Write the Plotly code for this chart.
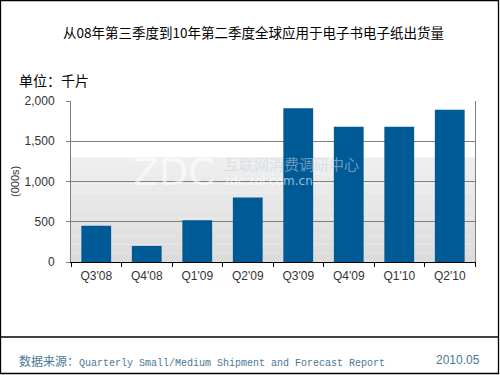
import plotly.graph_objects as go

categories = ["Q3'08", "Q4'08", "Q1'09", "Q2'09", "Q3'09", "Q4'09", "Q1'10", "Q2'10"]
shipments = [450, 200, 520, 800, 1910, 1680, 1680, 1890]
y_ticks = [0, 500, 1000, 1500, 2000]
y_tick_labels = ["0", "500", "1,000", "1,500", "2,000"]

W, H = 500, 375
L, R, T, B = 71, 25, 101, 113
PW, PH = W - L - R, H - T - B

def px(x):
    return (x - L) / PW

def py(y):
    return 1 - (y - T) / PH

fig = go.Figure()
fig.add_trace(go.Bar(x=categories, y=shipments, marker_color="#005a96",
                     marker_line_width=0, hoverinfo="x+y"))

shapes = []
# gradient band behind bars (lower part of plot)
band_top = 1300
n = 12
for i in range(n):
    y0 = band_top * i / n
    y1 = band_top * (i + 1) / n
    c = int(220 + (240 - 220) * (i + 0.5) / n)
    shapes.append(dict(type="rect", xref="paper", yref="y", x0=0, x1=1, y0=y0, y1=y1,
                       fillcolor=f"rgb({c},{c},{c})", line_width=0, layer="below"))
# outer border
shapes.append(dict(type="rect", xref="paper", yref="paper", x0=px(0.5), x1=px(498.5),
                   y0=py(0.5), y1=py(373.5), line=dict(color="#000000", width=1.3)))
# footer separator
shapes.append(dict(type="line", xref="paper", yref="paper", x0=px(1), x1=px(498),
                   y0=py(337), y1=py(337), line=dict(color="#000000", width=1.3)))
fig.update_layout(shapes=shapes)

font_cjk = "Noto Sans CJK SC, Noto Sans, sans-serif"
ann = []
ann.append(dict(text="从08年第三季度到10年第二季度全球应用于电子书电子纸出货量", x=px(253), y=py(32),
                xref="paper", yref="paper", showarrow=False, xanchor="center", yanchor="middle",
                font=dict(family=font_cjk, size=13.5, color="#000000")))
ann.append(dict(text="单位：千片", x=px(17), y=py(80), xref="paper", yref="paper", showarrow=False,
                xanchor="left", yanchor="middle", font=dict(family=font_cjk, size=14, color="#000000")))
ann.append(dict(text="(000s)", x=px(15), y=py(181), xref="paper", yref="paper", showarrow=False,
                textangle=-90, xanchor="center", yanchor="middle",
                font=dict(family="Liberation Sans, Arial, sans-serif", size=11, color="#333333")))
# watermark
ann.append(dict(text="ZDC", x=px(217), y=py(172), xref="paper", yref="paper", showarrow=False,
                xanchor="right", yanchor="middle",
                font=dict(family="DejaVu Sans, sans-serif", size=38, color="rgba(255,255,255,0.6)")))
ann.append(dict(text="互联网消费调研中心", x=px(222), y=py(163), xref="paper", yref="paper", showarrow=False,
                xanchor="left", yanchor="middle",
                font=dict(family=font_cjk, size=15, color="rgba(200,212,225,0.55)")))
ann.append(dict(text="zdc.zol.com.cn", x=px(222), y=py(181), xref="paper", yref="paper", showarrow=False,
                xanchor="left", yanchor="middle",
                font=dict(family="DejaVu Sans, sans-serif", size=12, color="rgba(255,255,255,0.6)")))
# footer
ann.append(dict(text="数据来源：<span style='font-family:Liberation Mono, Courier New, monospace;font-size:10px'>Quarterly Small/Medium Shipment and Forecast Report</span>",
                x=px(17), y=py(360), xref="paper", yref="paper", showarrow=False,
                xanchor="left", yanchor="middle", font=dict(family=font_cjk, size=12, color="#4a7896")))
ann.append(dict(text="2010.05", x=px(482), y=py(360), xref="paper", yref="paper", showarrow=False,
                xanchor="right", yanchor="middle",
                font=dict(family="Liberation Sans, Arial, sans-serif", size=12, color="#4a7896")))
fig.update_layout(annotations=ann)

fig.update_layout(
    width=W, height=H,
    margin=dict(l=L, r=R, t=T, b=B, pad=0),
    paper_bgcolor="#ffffff", plot_bgcolor="#ffffff",
    showlegend=False, bargap=0.41,
    xaxis=dict(type="category", showline=True, linecolor="#000000", linewidth=1,
               ticks="outside", tickson="boundaries", ticklen=4, tickcolor="#000000",
               ticklabelstandoff=3,
               showgrid=False, tickfont=dict(family="Liberation Sans, Arial, sans-serif", size=12, color="#333333")),
    yaxis=dict(range=[0, 2000], tickvals=y_ticks, ticktext=y_tick_labels,
               showline=True, linecolor="#7f7f7f", linewidth=1, mirror=True,
               ticks="outside", ticklen=4, tickcolor="#7f7f7f",
               ticklabelstandoff=9,
               showgrid=True, gridcolor="#7f7f7f", gridwidth=1, zeroline=False,
               tickfont=dict(family="Liberation Sans, Arial, sans-serif", size=12, color="#333333")),
)

fig.write_html("out.html", config={"displayModeBar": False},
               post_script="document.body.style.margin='0';document.body.style.padding='0';document.body.style.overflow='hidden';")
